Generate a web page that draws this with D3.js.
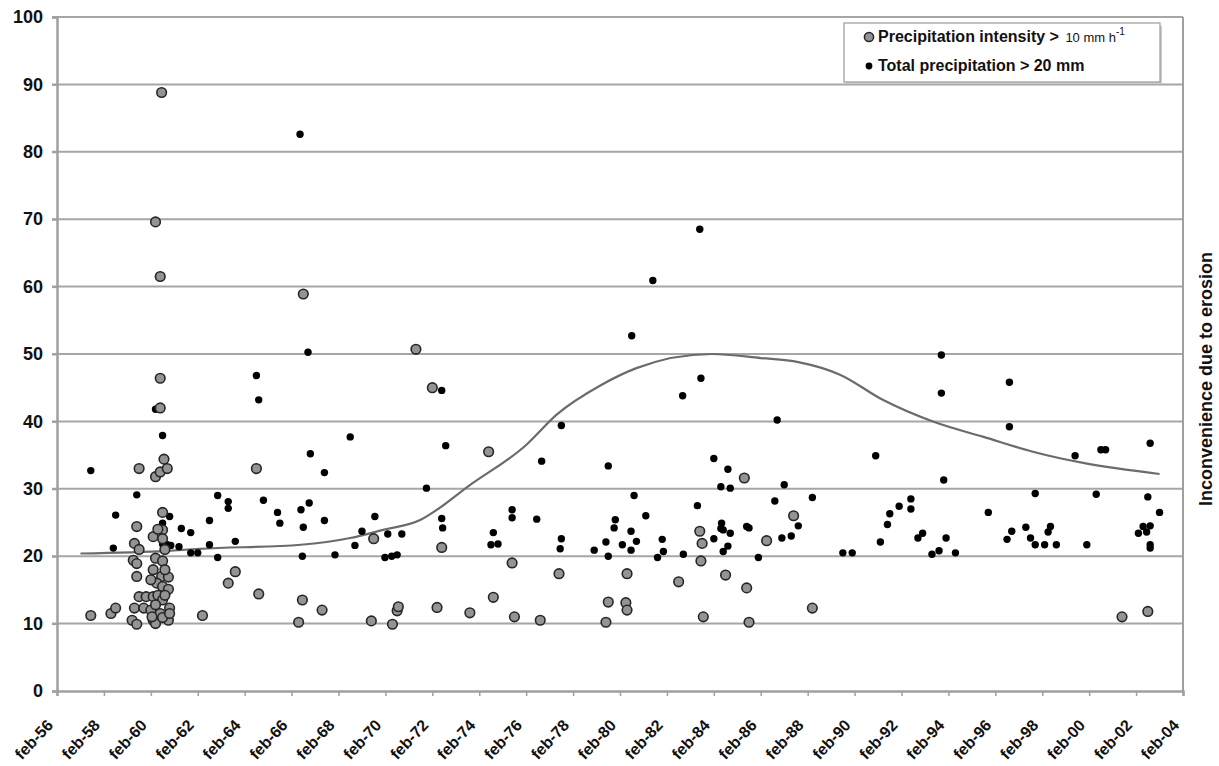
<!DOCTYPE html>
<html>
<head>
<meta charset="utf-8">
<script src="https://cdn.jsdelivr.net/npm/d3@7"></script>
<style>
  html, body { margin: 0; padding: 0; background: #fff; }
  svg { display: block; font-family: "Liberation Sans", Arial, sans-serif; }
</style>
</head>
<body>
<svg id="chart" width="1219" height="766"></svg>
<script>
// ---------- DATA ----------
const xTickYears = d3.range(1956, 2005, 2);
const yTicks = [0, 10, 20, 30, 40, 50, 60, 70, 80, 90, 100];

// Precipitation intensity > 10 mm h-1  [year, value]
const intensityPoints = [
  [1960.46, 88.8], [1960.2, 69.6], [1960.4, 61.5], [1966.5, 58.9],
  [1957.44, 11.2], [1958.3, 11.5], [1958.5, 12.3], [1959.5, 33.0], [1959.4, 24.4],
  [1959.3, 21.9], [1959.5, 21.0], [1959.25, 19.4], [1959.4, 18.9], [1959.4, 17.0],
  [1959.5, 14.0], [1959.3, 12.3], [1959.2, 10.5], [1959.4, 9.9], [1959.8, 14.0],
  [1960.1, 14.0], [1959.7, 12.3], [1960.0, 12.0], [1960.1, 10.5], [1960.2, 10.0],
  [1960.4, 46.4], [1960.4, 42.0], [1960.2, 31.8], [1960.4, 32.5], [1960.56, 34.4],
  [1960.7, 33.0], [1960.5, 26.5], [1960.1, 22.9], [1960.5, 23.9], [1960.5, 22.6],
  [1960.2, 19.7], [1960.5, 19.3], [1960.1, 18.0], [1960.46, 17.0], [1960.75, 16.9],
  [1960.25, 16.0], [1960.5, 15.5], [1960.75, 15.1], [1960.3, 14.2], [1960.5, 13.5],
  [1960.8, 12.3], [1960.4, 11.5], [1960.75, 10.5], [1960.5, 10.9], [1960.8, 11.5],
  [1960.6, 21.0], [1960.3, 24.0], [1960.6, 18.0], [1960.0, 16.5], [1960.6, 14.2],
  [1960.2, 12.8], [1960.05, 11.0],
  [1962.2, 11.2], [1963.3, 16.0], [1963.6, 17.7], [1964.5, 33.0], [1964.6, 14.4],
  [1966.46, 13.5], [1966.3, 10.2], [1967.3, 12.0], [1969.4, 10.4], [1969.5, 22.6],
  [1970.3, 9.9], [1970.5, 11.9], [1970.55, 12.5], [1971.3, 50.7], [1972.0, 45.0],
  [1972.4, 21.3], [1972.2, 12.4], [1973.6, 11.6], [1974.4, 35.5], [1974.6, 13.9],
  [1975.4, 19.0], [1975.5, 11.0], [1976.6, 10.5], [1977.4, 17.4], [1979.4, 10.2],
  [1979.5, 13.2], [1980.25, 13.1], [1980.3, 12.0], [1980.3, 17.4], [1982.5, 16.2],
  [1983.4, 23.7], [1983.5, 21.9], [1983.45, 19.3], [1983.55, 11.0], [1984.5, 17.2],
  [1985.3, 31.6], [1985.4, 15.3], [1985.5, 10.2], [1986.25, 22.3], [1987.4, 26.0],
  [1988.2, 12.3], [2001.4, 11.0], [2002.5, 11.8]
];

// Total precipitation > 20 mm  [year, value]
const totalPoints = [
  [1966.36, 82.6], [1981.4, 60.9], [1983.4, 68.5],
  [1957.44, 32.7], [1958.5, 26.1], [1958.4, 21.2], [1959.4, 29.1], [1960.2, 41.8],
  [1960.5, 37.9], [1960.8, 25.9], [1960.5, 24.9], [1960.7, 21.7], [1960.5, 21.8],
  [1960.85, 21.6], [1961.2, 21.4], [1961.3, 24.1], [1961.7, 23.5], [1961.7, 20.5],
  [1962.0, 20.5], [1962.5, 25.3], [1962.5, 21.7], [1962.85, 29.0], [1962.85, 19.8],
  [1963.3, 28.1], [1963.3, 27.1], [1963.6, 22.2], [1964.5, 46.8], [1964.6, 43.2],
  [1964.8, 28.3], [1965.4, 26.5], [1965.5, 24.9], [1966.7, 50.25], [1966.8, 35.2],
  [1966.4, 26.9], [1966.75, 27.9], [1966.5, 24.3], [1966.46, 20.0], [1967.4, 32.4],
  [1967.4, 25.3], [1967.85, 20.2], [1968.5, 37.7], [1969.0, 23.7], [1968.7, 21.6],
  [1969.55, 25.9], [1970.1, 23.3], [1969.98, 19.8], [1970.27, 20.0], [1970.5, 20.2],
  [1970.7, 23.3],
  [1980.5, 52.7], [1972.4, 44.6], [1972.57, 36.4], [1971.75, 30.1], [1972.4, 25.6],
  [1972.44, 24.2], [1977.5, 39.4], [1976.66, 34.1], [1974.6, 23.5], [1974.5, 21.7],
  [1974.8, 21.8], [1975.4, 26.9], [1975.4, 25.7], [1976.45, 25.5], [1977.5, 22.6],
  [1977.45, 21.1], [1979.5, 33.4], [1980.6, 29.0], [1981.1, 26.0], [1979.8, 25.4],
  [1979.75, 24.2], [1979.4, 22.1], [1978.9, 20.9], [1979.5, 20.0], [1980.1, 21.7],
  [1980.47, 23.7], [1980.7, 22.2], [1980.47, 20.9], [1981.8, 22.5], [1981.85, 20.7],
  [1981.6, 19.8], [1982.7, 20.3], [1982.67, 43.8], [1983.45, 46.4], [1983.3, 27.5],
  [1984.0, 34.5], [1984.6, 32.9], [1984.3, 30.3], [1984.7, 30.1], [1984.33, 24.9],
  [1984.3, 24.1], [1984.7, 23.4], [1984.4, 23.9], [1984.0, 22.6], [1984.6, 21.5],
  [1984.4, 20.7], [1985.4, 24.4], [1985.5, 24.2], [1985.9, 19.8], [1986.7, 40.2],
  [1987.0, 30.6], [1986.6, 28.2], [1987.6, 24.5], [1986.9, 22.7], [1987.3, 23.0],
  [1988.2, 28.7],
  [1993.7, 49.85], [1993.7, 44.2], [1996.6, 45.8], [1996.6, 39.2], [1990.9, 34.9],
  [1993.8, 31.3], [1999.4, 34.9], [2000.5, 35.8], [2000.7, 35.8], [2002.6, 36.75],
  [1989.5, 20.5], [1989.9, 20.5], [1991.1, 22.1], [1991.4, 24.7], [1991.5, 26.3],
  [1991.9, 27.4], [1992.4, 28.5], [1992.4, 27.0], [1992.7, 22.7], [1992.9, 23.4],
  [1993.3, 20.3], [1993.6, 20.8], [1993.9, 22.7], [1994.3, 20.5], [1995.7, 26.5],
  [1997.7, 29.3], [1997.3, 24.3], [1996.7, 23.7], [1996.5, 22.5], [1997.5, 22.7],
  [1997.7, 21.7], [1998.1, 21.7], [1998.6, 21.7], [1998.25, 23.6], [1998.35, 24.4],
  [1999.9, 21.7], [2000.3, 29.2], [2002.5, 28.8], [2003.0, 26.5], [2002.1, 23.4],
  [2002.3, 24.4], [2002.6, 24.5], [2002.45, 23.6], [2002.6, 21.7], [2002.6, 21.2]
];

// Inconvenience due to erosion (trend curve)
const trendYears  = [1957.0, 1960.7, 1962.1, 1966.4, 1968.5, 1969.9, 1971.5, 1972.2, 1973.5, 1976.0, 1977.3, 1979.2, 1980.7, 1983.9, 1986.0, 1987.6, 1989.4, 1991.2, 1993.4, 1995.5, 1997.6, 1999.8, 2003.0];
const trendValues = [20.4, 20.8, 21.1, 21.7, 22.7, 23.9, 25.4, 26.9, 30.3, 36.5, 41.0, 45.4, 47.9, 50.0, 49.4, 48.8, 46.9, 43.2, 39.9, 37.7, 35.5, 33.8, 32.2];

const legendLabels = ["Precipitation intensity > ", "Total precipitation > 20 mm"];
const rightTitle = "Inconvenience due to erosion";

// ---------- LAYOUT ----------
const svg = d3.select("#chart");
const L = 57, R = 1183, T = 17, B = 691;

const x = d3.scaleLinear().domain([1956, 2004]).range([L, R]);
const y = d3.scaleLinear().domain([0, 100]).range([B, T]);

svg.append("rect").attr("width", 1219).attr("height", 766).attr("fill", "#fff");

// gridlines
svg.append("g")
  .selectAll("line")
  .data(yTicks.filter(d => d > 0))
  .join("line")
  .attr("x1", L - 5).attr("x2", R)
  .attr("y1", d => y(d)).attr("y2", d => y(d))
  .attr("stroke", "#a6a6a6").attr("stroke-width", 2);

// y axis
const yAxis = svg.append("g")
  .attr("transform", `translate(${L},0)`)
  .call(d3.axisLeft(y).tickValues(yTicks).tickSize(5).tickPadding(9).tickFormat(d3.format("d")));
yAxis.select(".domain").attr("stroke", "#a0a0a0").attr("stroke-width", 2.5);
yAxis.selectAll(".tick line").attr("stroke", "#a0a0a0").attr("stroke-width", 2);
yAxis.selectAll("text")
  .attr("font-size", 18).attr("font-weight", "bold").attr("fill", "#111")
  .attr("font-family", "'Liberation Sans', Arial, sans-serif");

// right border
svg.append("line").attr("x1", R).attr("x2", R).attr("y1", T).attr("y2", B)
  .attr("stroke", "#a0a0a0").attr("stroke-width", 2);

// x axis
const xAxis = svg.append("g")
  .attr("transform", `translate(0,${B})`)
  .call(d3.axisBottom(x).tickValues(xTickYears).tickSize(5).tickFormat(""));
xAxis.select(".domain").attr("stroke", "#a0a0a0").attr("stroke-width", 2.5);
xAxis.selectAll(".tick line").attr("stroke", "#a0a0a0").attr("stroke-width", 1.5);

svg.append("g")
  .selectAll("text")
  .data(xTickYears)
  .join("text")
  .attr("transform", d => `translate(${x(d) - 3},${B + 35}) rotate(-47)`)
  .attr("text-anchor", "end")
  .attr("font-size", 16).attr("font-weight", "bold").attr("fill", "#111")
  .text(d => "feb-" + String(d % 100).padStart(2, "0"));

// trend curve
const line = d3.line().x((d, i) => x(trendYears[i])).y(d => y(d)).curve(d3.curveMonotoneX);
svg.append("path")
  .datum(trendValues)
  .attr("d", line)
  .attr("fill", "none").attr("stroke", "#6b6b6b").attr("stroke-width", 2.2);

// total precipitation points (black)
svg.append("g")
  .selectAll("circle")
  .data(totalPoints)
  .join("circle")
  .attr("cx", d => x(d[0])).attr("cy", d => y(d[1]))
  .attr("r", 3.7).attr("fill", "#000");

// intensity points (gray)
svg.append("g")
  .selectAll("circle")
  .data(intensityPoints)
  .join("circle")
  .attr("cx", d => x(d[0])).attr("cy", d => y(d[1]))
  .attr("r", 4.8).attr("fill", "#949494").attr("stroke", "#262626").attr("stroke-width", 1.6);

// legend
const lg = svg.append("g");
lg.append("rect").attr("x", 846).attr("y", 26).attr("width", 316).attr("height", 58).attr("fill", "#ccc");
lg.append("rect").attr("x", 844).attr("y", 23).attr("width", 316).attr("height", 59)
  .attr("fill", "#fff").attr("stroke", "#9a9a9a").attr("stroke-width", 1.2);
lg.append("circle").attr("cx", 869).attr("cy", 37).attr("r", 4.6)
  .attr("fill", "#949494").attr("stroke", "#262626").attr("stroke-width", 1.5);
lg.append("circle").attr("cx", 869).attr("cy", 66).attr("r", 3.4).attr("fill", "#000");
const t1 = lg.append("text").attr("x", 878).attr("y", 42).attr("fill", "#111");
t1.append("tspan").attr("font-size", 16).attr("font-weight", "bold").text(legendLabels[0]);
t1.append("tspan").attr("font-size", 13).attr("dx", 2).text("10 mm h");
t1.append("tspan").attr("font-size", 10).attr("dy", -7).text("-1");
lg.append("text").attr("x", 878).attr("y", 71).attr("fill", "#111")
  .attr("font-size", 16).attr("font-weight", "bold").text(legendLabels[1]);

// right axis title
svg.append("text")
  .attr("transform", "translate(1212,379) rotate(-90)")
  .attr("text-anchor", "middle")
  .attr("font-size", 18).attr("font-weight", "bold").attr("fill", "#111")
  .text(rightTitle);
</script>
</body>
</html>
